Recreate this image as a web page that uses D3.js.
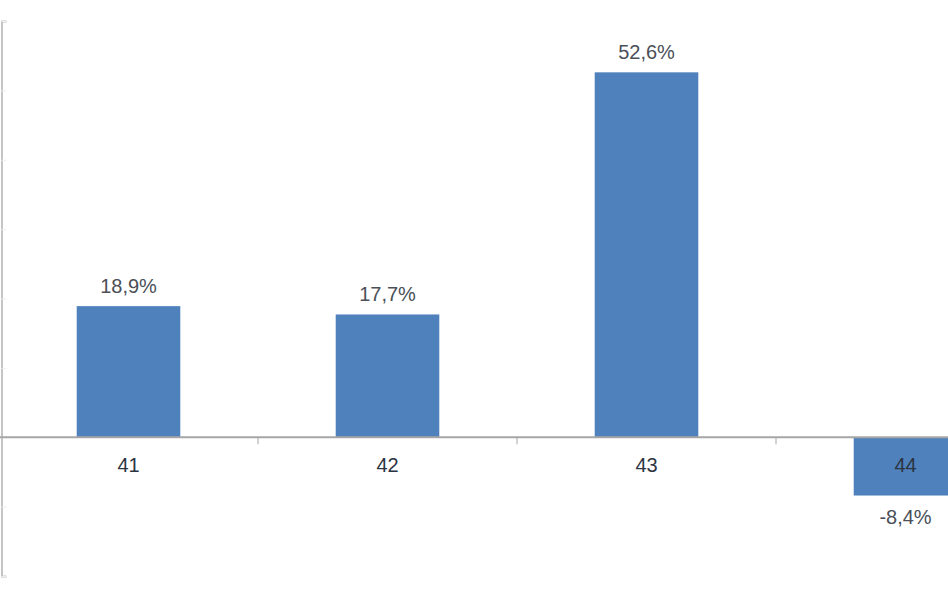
<!DOCTYPE html>
<html>
<head>
<meta charset="utf-8">
<script src="https://cdn.jsdelivr.net/npm/d3@7"></script>
<style>
html,body{margin:0;padding:0;background:#fff;}
svg{display:block;}
text{font-family:"Liberation Sans",Arial,sans-serif;}
</style>
</head>
<body>
<svg id="chart" width="948" height="593"></svg>
<script>
const categories = ["41", "42", "43", "44"];
const values = [18.9, 17.7, 52.6, -8.4];
const valueLabels = ["18,9%", "17,7%", "52,6%", "-8,4%"];
const yTicks = [-20, -10, 0, 10, 20, 30, 40, 50, 60];

const svg = d3.select("#chart");
const W = 948, H = 593;

const x = d3.scaleBand().domain(categories).range([-1, 1035]).paddingInner(0.6).paddingOuter(0.3);
const y = d3.scaleLinear().domain([-20, 60]).range([576, 21]);

// left axis
const yAxis = d3.axisLeft(y).tickValues(yTicks).tickSize(-5).tickFormat("");
const ya = svg.append("g").attr("transform", "translate(1.5,0)").call(yAxis);
ya.select(".domain").attr("stroke", "#c4c4c4").attr("stroke-width", 2);
ya.selectAll(".tick line").attr("stroke", "#ececec");

// bars
svg.append("g").selectAll("rect").data(categories).join("rect")
  .attr("x", d => x(d))
  .attr("width", x.bandwidth())
  .attr("y", (d, i) => y(Math.max(0, values[i])))
  .attr("height", (d, i) => Math.abs(y(values[i]) - y(0)))
  .attr("fill", "#4f81bd");

// zero line
svg.append("line").attr("x1", 0).attr("x2", W).attr("y1", y(0)).attr("y2", y(0))
  .attr("stroke", "#a6a6a6").attr("stroke-width", 2);

// category separators
const step = x.step();
svg.append("g").selectAll("line").data(categories.slice(1)).join("line")
  .attr("x1", d => x(d) - step * x.paddingInner() / 2)
  .attr("x2", d => x(d) - step * x.paddingInner() / 2)
  .attr("y1", y(0)).attr("y2", y(0) + 7)
  .attr("stroke", "#a6a6a6").attr("stroke-width", 1);

// category labels
svg.append("g").selectAll("text").data(categories).join("text")
  .attr("x", d => x(d) + x.bandwidth() / 2)
  .attr("y", y(0) + 34.5)
  .attr("text-anchor", "middle")
  .attr("font-size", 20)
  .attr("fill", "#2b3442")
  .text(d => d);

// value labels
svg.append("g").selectAll("text").data(categories).join("text")
  .attr("x", d => x(d) + x.bandwidth() / 2)
  .attr("y", (d, i) => values[i] >= 0 ? y(values[i]) - 13 : y(values[i]) + 28)
  .attr("text-anchor", "middle")
  .attr("font-size", 20)
  .attr("fill", "#4a4f58")
  .text((d, i) => valueLabels[i]);
</script>
</body>
</html>
